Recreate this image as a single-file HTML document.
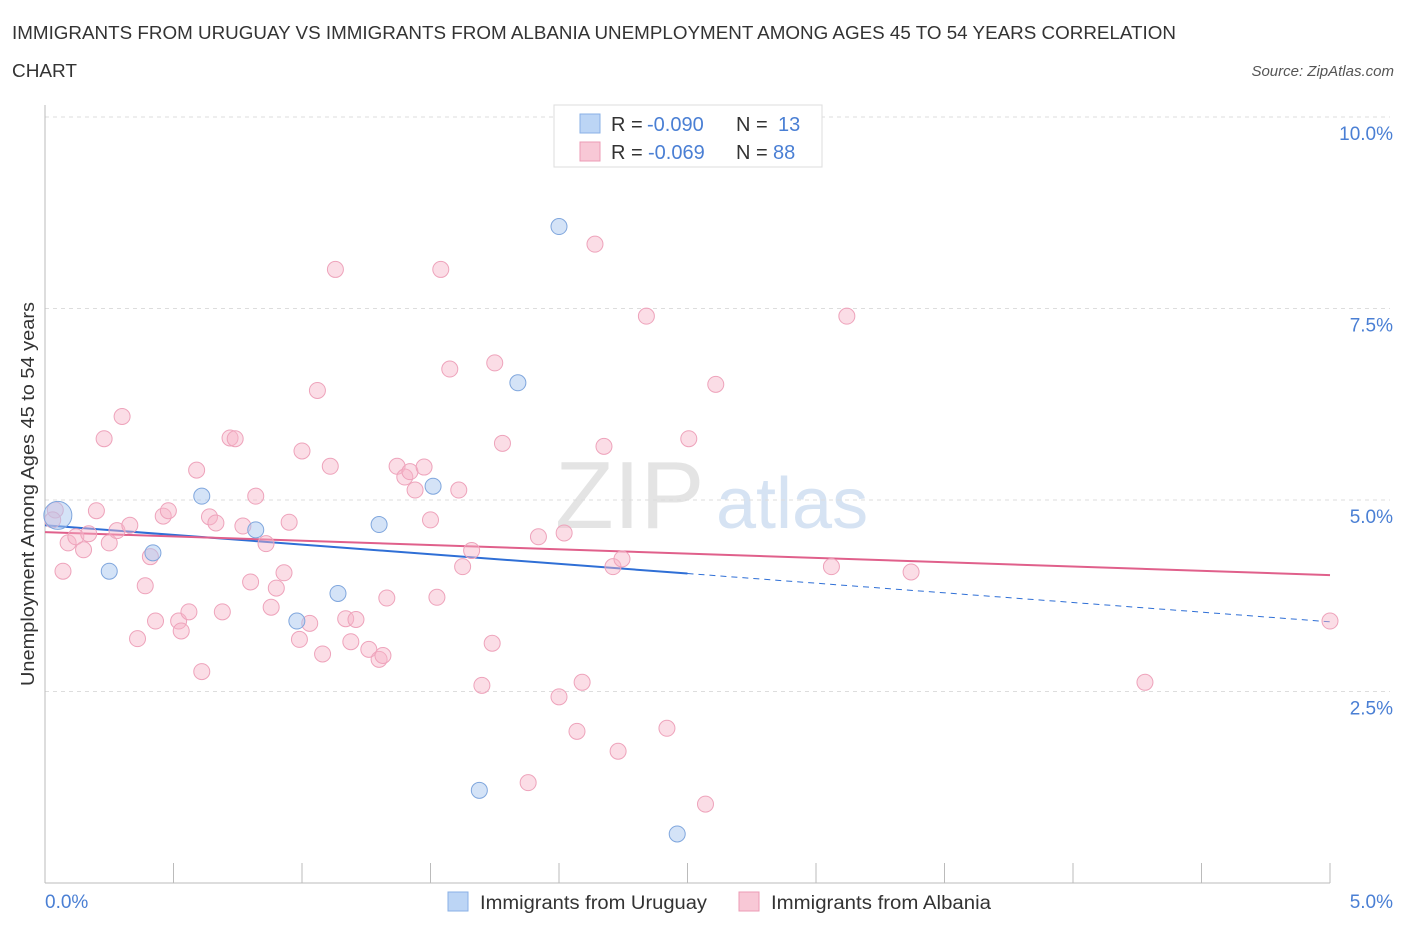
<!DOCTYPE html>
<html><head><meta charset="utf-8">
<style>
body{margin:0;background:#fff;font-family:"Liberation Sans",sans-serif;}
svg text{font-family:"Liberation Sans",sans-serif;}
</style></head>
<body>
<svg width="1406" height="930" xmlns="http://www.w3.org/2000/svg">
<text x="12" y="39" font-size="18" fill="#333" textLength="1164" lengthAdjust="spacingAndGlyphs">IMMIGRANTS FROM URUGUAY VS IMMIGRANTS FROM ALBANIA UNEMPLOYMENT AMONG AGES 45 TO 54 YEARS CORRELATION</text>
<text x="12" y="77" font-size="18" fill="#333" textLength="65" lengthAdjust="spacingAndGlyphs">CHART</text>
<text x="1394" y="76" font-size="15" fill="#555" font-style="italic" text-anchor="end">Source: ZipAtlas.com</text>
<g>
<text x="555" y="528" font-size="96" fill="#e4e4e4" font-family="Liberation Serif,serif">ZIP</text>
<text x="716" y="528" font-size="72" fill="#d6e3f3">atlas</text>
</g>
<g id="grid"></g>
<g id="axes"></g>
<g id="lines"></g>
<g id="pts"></g>
<text transform="translate(34,494) rotate(-90)" font-size="18" fill="#333" text-anchor="middle" textLength="384" lengthAdjust="spacingAndGlyphs">Unemployment Among Ages 45 to 54 years</text>
<text x="45" y="908" font-size="19" fill="#4a7fd4">0.0%</text>
<text x="1393" y="908" font-size="19" fill="#4a7fd4" text-anchor="end">5.0%</text>
<g>
<rect x="554" y="105" width="268" height="62" fill="#fff" stroke="#ddd"/>
<rect x="580" y="114" width="20" height="19" fill="#bcd5f5" stroke="#8ab0e6"/>
<rect x="580" y="142" width="20" height="19" fill="#f8c8d6" stroke="#ec9bb5"/>
<text x="611" y="131" font-size="20" fill="#333">R =</text>
<text x="647" y="131" font-size="20" fill="#4a7fd4">-0.090</text>
<text x="736" y="131" font-size="20" fill="#333">N =</text>
<text x="778" y="131" font-size="20" fill="#4a7fd4">13</text>
<text x="611" y="159" font-size="20" fill="#333">R =</text>
<text x="648" y="159" font-size="20" fill="#4a7fd4">-0.069</text>
<text x="736" y="159" font-size="20" fill="#333">N =</text>
<text x="773" y="159" font-size="20" fill="#4a7fd4">88</text>
</g>
<g>
<rect x="448" y="892" width="20" height="19" fill="#bcd5f5" stroke="#8ab0e6"/>
<text x="480" y="909" font-size="19" fill="#333" textLength="227" lengthAdjust="spacingAndGlyphs">Immigrants from Uruguay</text>
<rect x="739" y="892" width="20" height="19" fill="#f8c8d6" stroke="#ec9bb5"/>
<text x="771" y="909" font-size="19" fill="#333" textLength="220" lengthAdjust="spacingAndGlyphs">Immigrants from Albania</text>
</g>
</svg>
<script>
const yTicks=[2.5,5.0,7.5,10.0];
const yTickLabels=["2.5%","5.0%","7.5%","10.0%"];
const uruguayX=[0.05,0.25,0.42,0.61,0.82,0.98,1.14,1.30,1.51,1.69,1.84,2.00,2.46];
const uruguayY=[4.8,4.07,4.31,5.05,4.61,3.42,3.78,4.68,5.18,1.21,6.53,8.57,0.64];
const albaniaX=[0.04,0.07,0.09,0.12,0.15,0.17,0.20,0.23,0.25,0.28,0.30,0.33,0.36,0.39,0.41,0.43,0.46,0.48,0.52,0.53,0.56,0.59,0.61,0.64,0.665,0.69,0.72,0.74,0.77,0.80,0.82,0.86,0.88,0.90,0.93,0.95,0.99,1.00,1.03,1.06,1.08,1.11,1.13,1.17,1.19,1.21,1.26,1.30,1.315,1.33,1.37,1.40,1.42,1.44,1.475,1.50,1.525,1.54,1.575,1.61,1.625,1.66,1.70,1.74,1.75,1.78,1.88,1.92,2.00,2.02,2.07,2.09,2.14,2.175,2.21,2.23,2.245,2.34,2.42,2.505,2.57,2.61,3.06,3.12,3.37,4.28,5.00,0.03];
const albaniaY=[4.87,4.07,4.44,4.52,4.35,4.56,4.86,5.80,4.44,4.60,6.09,4.67,3.19,3.88,4.26,3.42,4.79,4.86,3.42,3.29,3.54,5.39,2.76,4.78,4.70,3.54,5.81,5.80,4.66,3.93,5.05,4.43,3.60,3.85,4.05,4.71,3.18,5.64,3.39,6.43,2.99,5.44,8.01,3.45,3.15,3.44,3.05,2.92,2.97,3.72,5.44,5.30,5.37,5.13,5.43,4.74,3.73,8.01,6.71,5.13,4.13,4.34,2.58,3.13,6.79,5.74,1.31,4.52,2.43,4.57,1.98,2.62,8.34,5.70,4.13,1.72,4.23,7.40,2.02,5.80,1.03,6.51,4.13,7.40,4.06,2.62,3.42,4.74];
const uruguayFit=[4.67,3.41], albaniaFit=[4.58,4.02];
const X0=45,X1=1330,Y0=883,Y10=117;
const sx=v=>X0+(X1-X0)*v/5, sy=v=>Y0-(Y0-Y10)*v/10;
const NS="http://www.w3.org/2000/svg";
function mk(tag,at,par){const e=document.createElementNS(NS,tag);for(const k in at)e.setAttribute(k,at[k]);document.getElementById(par).appendChild(e);return e;}
yTicks.forEach((t,i)=>{
 const g=mk('line',{x1:X0,x2:1390,y1:sy(t),y2:sy(t),stroke:'#ddd','stroke-dasharray':'4,4'},'grid');
 
 
 const tx=mk('text',{x:1393,y:sy(t)+23,'font-size':19,fill:'#4a7fd4','text-anchor':'end'},'grid');
 tx.textContent=yTickLabels[i];
 
 
});
const ax=mk('line',{x1:X0,x2:X1,y1:Y0,y2:Y0,stroke:'#bbb'},'axes');


const ay=mk('line',{x1:X0,x2:X0,y1:105,y2:Y0,stroke:'#bbb'},'axes');


for(let i=0;i<=10;i++){const t=mk('line',{x1:sx(i*0.5),x2:sx(i*0.5),y1:Y0,y2:863,stroke:'#bbb'},'axes');
 
 }
albaniaX.forEach((x,i)=>{const c=mk('circle',{cx:sx(x),cy:sy(albaniaY[i]),r:8,fill:'rgba(246,180,200,0.45)',stroke:'#eea3bb','stroke-width':1},'pts');
 
 });
uruguayX.forEach((x,i)=>{const c=mk('circle',{cx:sx(x),cy:sy(uruguayY[i]),r:i==0?14:8,fill:'rgba(170,200,240,0.5)',stroke:'#7fa6dd','stroke-width':1},'pts');
 
 });
const ufy=x=>uruguayFit[0]+(uruguayFit[1]-uruguayFit[0])*x/5;
const l1=mk('line',{x1:sx(0),y1:sy(ufy(0)),x2:sx(2.5),y2:sy(ufy(2.5)),stroke:'#2f6fd6','stroke-width':2},'lines');


const l2=mk('line',{x1:sx(2.5),y1:sy(ufy(2.5)),x2:sx(5),y2:sy(ufy(5)),stroke:'#2f6fd6','stroke-width':1,'stroke-dasharray':'6,5'},'lines');


const l3=mk('line',{x1:sx(0),y1:sy(albaniaFit[0]),x2:sx(5),y2:sy(albaniaFit[1]),stroke:'#e0608b','stroke-width':2},'lines');


</script>
</body></html>
